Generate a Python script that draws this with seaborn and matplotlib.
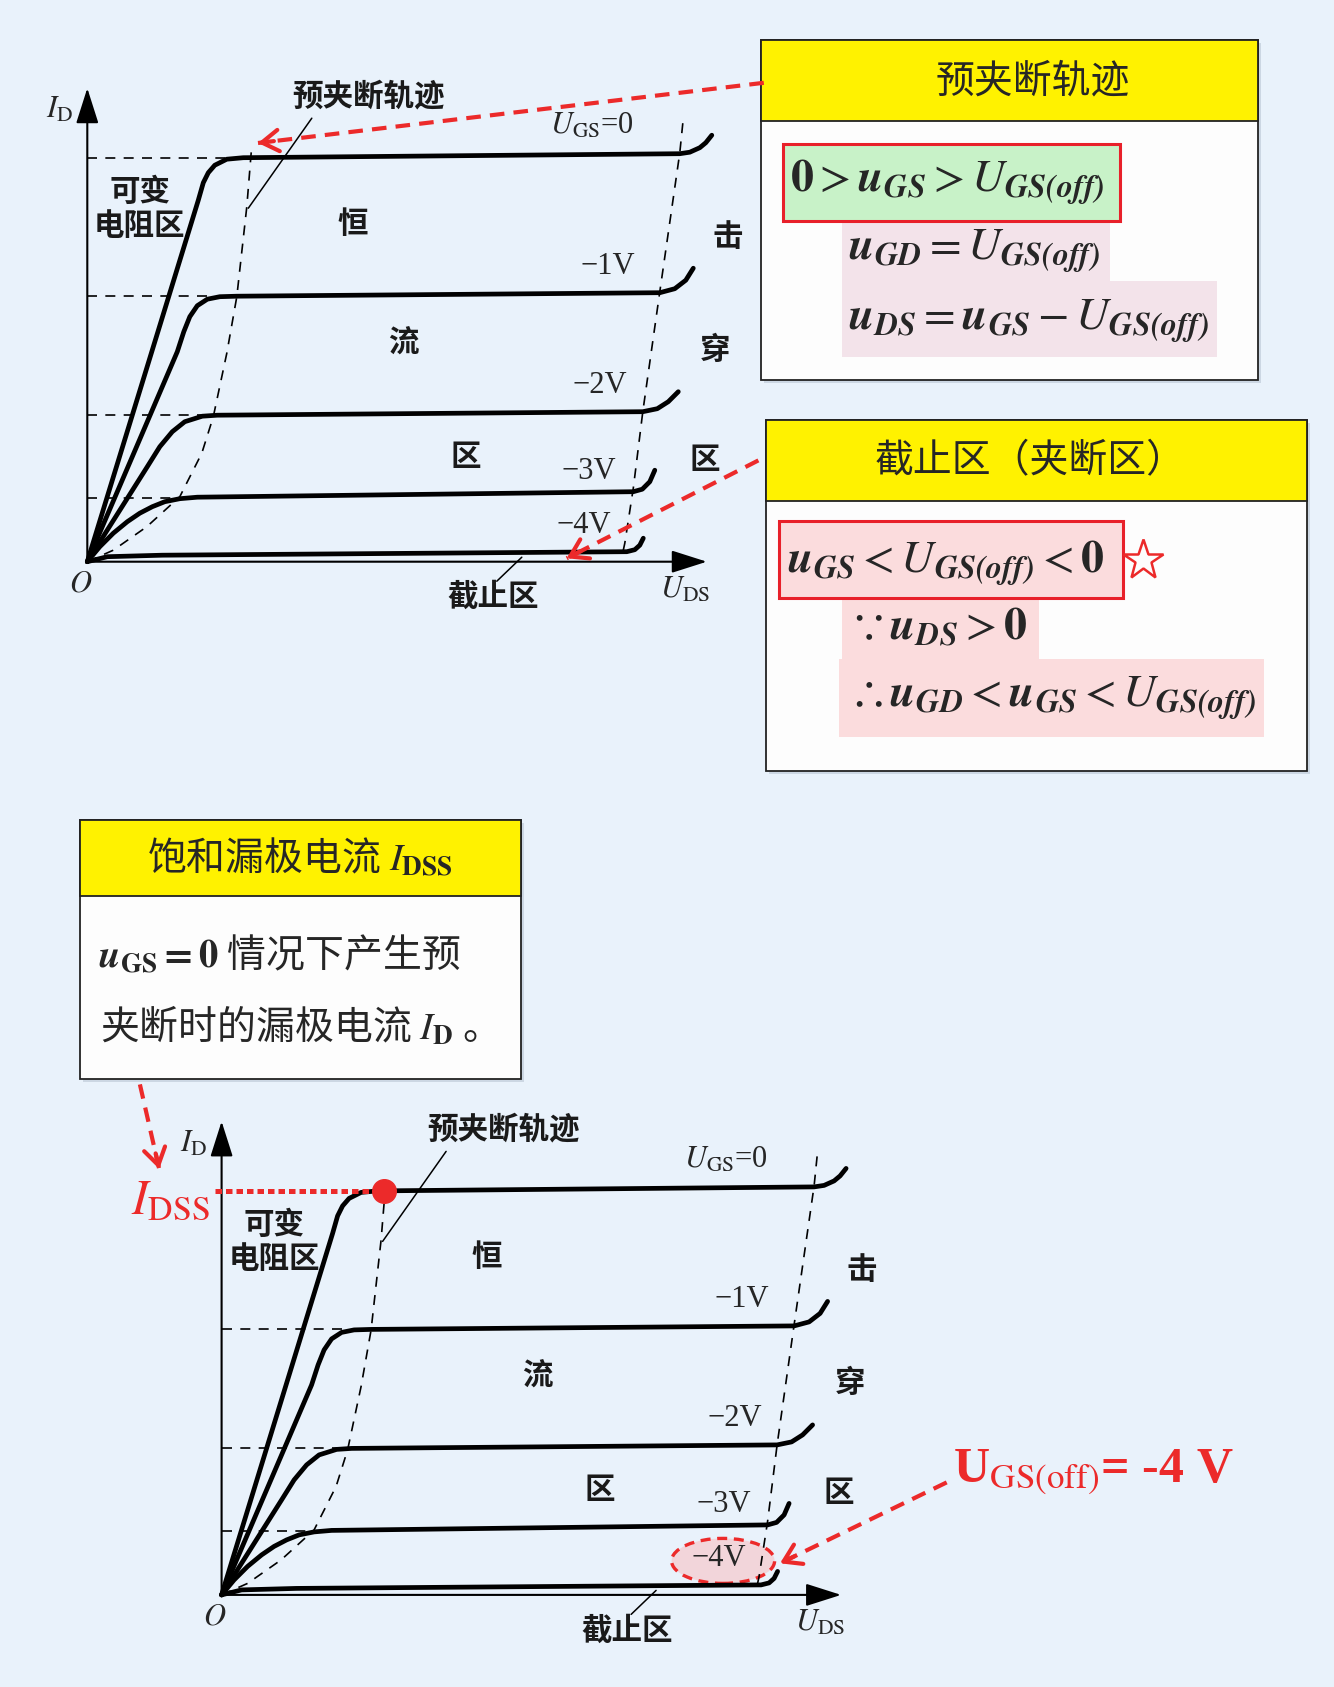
#!/usr/bin/env python3
"""JFET output characteristics slide: pre-pinch-off locus, cut-off region and I_DSS."""

import numpy as np
import matplotlib
matplotlib.use("Agg")
import matplotlib.pyplot as plt
from matplotlib.patches import Rectangle, Ellipse
import seaborn as sns

W, H = 1334, 1687
PX = 50.0  # pixels per chart unit
RED = "#ec2a2a"
BG = "#e9f2fb"

# ---- characteristic curves: U_DS (x) and I_D (y) ----
CURVE_LABELS = [r"$U_{\rm GS}$=0", "−1V", "−2V", "−3V", "−4V"]
UGS0_X = [0.0, 2.22, 2.32, 2.42, 2.55, 2.79, 3.12, 11.85, 12.05, 12.25, 12.37, 12.49]
UGS0_Y = [0.0, 7.23, 7.58, 7.78, 7.93, 8.05, 8.08, 8.16, 8.19, 8.28, 8.38, 8.53]
UGS1_X = [0.0, 1.80, 1.93, 2.05, 2.20, 2.40, 2.65, 2.99, 11.45, 11.75, 11.97, 12.12]
UGS1_Y = [0.0, 4.20, 4.60, 4.90, 5.12, 5.25, 5.30, 5.31, 5.38, 5.46, 5.63, 5.87]
UGS2_X = [0.0, 1.20, 1.45, 1.70, 1.95, 2.30, 2.60, 11.11, 11.40, 11.62, 11.82]
UGS2_Y = [0.0, 1.90, 2.30, 2.60, 2.80, 2.91, 2.93, 3.00, 3.06, 3.20, 3.40]
UGS3_X = [0.0, 0.25, 0.52, 0.80, 1.05, 1.30, 1.55, 1.85, 2.20, 10.92, 11.10, 11.25, 11.35]
UGS3_Y = [0.0, 0.30, 0.57, 0.80, 0.97, 1.10, 1.20, 1.26, 1.29, 1.40, 1.45, 1.60, 1.83]
UGS4_X = [0.0, 0.40, 1.50, 10.79, 10.95, 11.05, 11.12]
UGS4_Y = [0.0, 0.10, 0.13, 0.20, 0.24, 0.33, 0.47]
CURVES_X = [UGS0_X, UGS1_X, UGS2_X, UGS3_X, UGS4_X]
CURVES_Y = [UGS0_Y, UGS1_Y, UGS2_Y, UGS3_Y, UGS4_Y]

# pre-pinch-off locus and breakdown boundary (dashed)
PINCH_X = [0.0, 0.52, 1.19, 1.85, 2.29, 2.52, 2.79, 2.99, 3.19, 3.29]
PINCH_Y = [0.0, 0.23, 0.70, 1.30, 2.17, 2.90, 4.17, 5.30, 7.10, 8.33]
BREAK_X = [11.91, 11.85, 11.45, 11.11, 10.92, 10.75, 10.72]
BREAK_Y = [8.77, 8.18, 5.40, 3.00, 1.47, 0.37, 0.23]

# saturation levels with their dashed guide lines back to the I_D axis
LEVELS = [8.08, 5.31, 2.93, 1.28]
LEVEL_ENDS = [2.80, 2.55, 2.35, 1.80]
AXIS_X_END = 12.39
AXIS_Y_END = 9.47
IDSS_X = 3.25


def chart_axes(fig, origin):
    xlim, ylim = (-1.6, 13.5), (-1.2, 10.0)
    x0, y0 = origin
    rect = [(x0 + xlim[0] * PX) / W, (H - (y0 - ylim[0] * PX)) / H,
            (xlim[1] - xlim[0]) * PX / W, (ylim[1] - ylim[0]) * PX / H]
    ax = fig.add_axes(rect)
    ax.set_xlim(*xlim)
    ax.set_ylim(*ylim)
    ax.axis("off")
    ax.patch.set_alpha(0)
    return ax


def draw_chart(ax, top_guide=True):
    cn = dict(family=["Noto Sans CJK SC", "DejaVu Sans"], fontsize=22, fontweight="bold",
              color="#1a1a1a", ha="center", va="center")
    ser = dict(family=["Liberation Serif", "DejaVu Serif"], math_fontfamily="stix", fontsize=22,
               ha="center", va="center")

    # axes with arrows
    ax.annotate("", xy=(0, AXIS_Y_END), xytext=(0, 0),
                arrowprops=dict(arrowstyle="-|>,head_length=1.1,head_width=0.35", color="black",
                                lw=1.5, mutation_scale=20, shrinkA=0, shrinkB=0))
    ax.annotate("", xy=(AXIS_X_END, 0), xytext=(0, 0),
                arrowprops=dict(arrowstyle="-|>,head_length=1.1,head_width=0.35", color="black",
                                lw=1.5, mutation_scale=20, shrinkA=0, shrinkB=0))

    # dashed guides
    for i, (lvl, xe) in enumerate(zip(LEVELS, LEVEL_ENDS)):
        if i == 0 and not top_guide:
            continue
        ax.plot([0, xe], [lvl, lvl], color="black", lw=1.2, linestyle=(0, (6, 5)))
    ax.plot(PINCH_X, PINCH_Y, color="black", lw=1.2, linestyle=(0, (6, 5)))
    ax.plot(BREAK_X, BREAK_Y, color="black", lw=1.2, linestyle=(0, (6, 5)))

    # characteristic curves
    for xs, ys in zip(CURVES_X, CURVES_Y):
        sns.lineplot(x=xs, y=ys, ax=ax, sort=False, estimator=None, color="black",
                     lw=3.4, solid_capstyle="round", solid_joinstyle="round")

    # labels
    ax.text(5.63, 9.30, "预夹断轨迹", **cn)
    ax.plot([4.49, 3.22], [8.87, 7.07], color="black", lw=1.1)
    ax.text(1.05, 7.40, "可变", **cn)
    ax.text(1.05, 6.72, "电阻区", **cn)
    ax.text(5.31, 6.76, "恒", **cn)
    ax.text(6.32, 4.39, "流", **cn)
    ax.text(7.57, 2.09, "区", **cn)
    ax.text(12.80, 6.50, "击", **cn)
    ax.text(12.56, 4.24, "穿", **cn)
    ax.text(12.35, 2.03, "区", **cn)
    ax.text(8.11, -0.71, "截止区", **cn)
    ax.plot([8.19, 8.69], [-0.39, 0.09], color="black", lw=1.1)

    label_pos = [(10.09, 8.70), (10.41, 5.90), (10.26, 3.53), (10.04, 1.81), (9.94, 0.73)]
    for lab, (lx, ly) in zip(CURVE_LABELS, label_pos):
        ax.text(lx, ly, lab, **ser)
    ax.text(-0.56, 9.02, r"$I_{\rm D}$", **ser)
    ax.text(-0.13, -0.45, r"$O$", **ser)
    ax.text(11.96, -0.56, r"$U_{\rm DS}$", **ser)


def red_arrow(ax, start, end, lw=3.0):
    ax.plot([start[0], end[0]], [start[1], end[1]], color=RED, lw=lw,
            linestyle=(0, (3.5, 2.2)), solid_capstyle="butt")
    d = np.array(end, float) - np.array(start, float)
    u = d / np.hypot(*d)
    ax.annotate("", xy=end, xytext=(end[0] - u[0] * 16, end[1] - u[1] * 16),
                arrowprops=dict(arrowstyle="->,head_length=0.55,head_width=0.35", color=RED,
                                lw=lw, mutation_scale=22, shrinkA=0, shrinkB=0))


def titled_box(ax, x0, y0, x1, y_head, y1, title, tx, ty, fs=28):
    ax.add_patch(Rectangle((x0 + 3, y0 + 3), x1 - x0, y1 - y0, facecolor="#b9c6d4", edgecolor="none", alpha=0.6))
    ax.add_patch(Rectangle((x0, y0), x1 - x0, y1 - y0, facecolor="#fdfdfd", edgecolor="#222222", lw=1.3))
    ax.add_patch(Rectangle((x0, y0), x1 - x0, y_head - y0, facecolor="#fff200", edgecolor="#222222", lw=1.3))
    ax.text(tx, ty, title, ha="center", va="center", fontsize=fs,
            family=["Noto Sans CJK SC", "DejaVu Sans"], math_fontfamily="stix")


sns.set_theme(style="white")
plt.rcParams["font.family"] = ["Noto Sans CJK SC", "DejaVu Sans"]
plt.rcParams["mathtext.fontset"] = "stix"
plt.rcParams["mathtext.fallback"] = "stix"

fig = plt.figure(figsize=(W / 100, H / 100), dpi=100, facecolor=BG)

ax_top = chart_axes(fig, (87.3, 561.7))
draw_chart(ax_top, top_guide=True)

ax_bot = chart_axes(fig, (221.6, 1594.9))
draw_chart(ax_bot, top_guide=False)
ax_bot.plot([-0.13, IDSS_X], [LEVELS[0], LEVELS[0]], color=RED, lw=3.6, linestyle=(0, (1.3, 0.8)),
            solid_capstyle="butt", zorder=4)
ax_bot.plot([IDSS_X], [LEVELS[0]], marker="o", color=RED, markersize=17, zorder=5)
ax_bot.add_patch(Ellipse((10.03, 0.68), 2.06, 0.9, facecolor="#f2d5da", edgecolor=RED, lw=2.4,
                         linestyle=(0, (3, 2)), zorder=1))
ax_bot.text(-1.02, 7.91, r"$I_{\rm DSS}$", color=RED, fontsize=35, ha="center", va="center",
            math_fontfamily="stix")

# overlay in pixel coordinates: boxes, formulas and red call-outs
ov = fig.add_axes([0, 0, 1, 1], zorder=5)
ov.set_xlim(0, W)
ov.set_ylim(H, 0)
ov.axis("off")
ov.patch.set_alpha(0)

fml = dict(fontsize=33, ha="left", va="baseline", math_fontfamily="stix")

# box 1: pre-pinch-off locus
titled_box(ov, 761, 40, 1258, 121, 380, "预夹断轨迹", 1033, 81)
ov.add_patch(Rectangle((842, 212), 268, 77, facecolor="#f3e3ea", edgecolor="none"))
ov.add_patch(Rectangle((842, 281), 375, 76, facecolor="#f3e3ea", edgecolor="none"))
ov.add_patch(Rectangle((783, 144), 337, 77, facecolor="#c8f2c8", edgecolor="#e8202a", lw=2.2))
ov.text(790, 192, r"$\mathbf{0}>\mathbfit{u}_{\mathbfit{GS}}>U_{\mathbfit{GS(off)}}$", **fml)
ov.text(848, 260, r"$\mathbfit{u}_{\mathbfit{GD}}=U_{\mathbfit{GS(off)}}$", **fml)
ov.text(848, 330, r"$\mathbfit{u}_{\mathbfit{DS}}=\mathbfit{u}_{\mathbfit{GS}}-U_{\mathbfit{GS(off)}}$", **fml)

# box 2: cut-off region
titled_box(ov, 766, 420, 1307, 501, 771, "截止区（夹断区）", 1030, 461)
ov.add_patch(Rectangle((842, 593), 197, 74, facecolor="#fbdcdd", edgecolor="none"))
ov.add_patch(Rectangle((839, 659), 425, 78, facecolor="#fbdcdd", edgecolor="none"))
ov.add_patch(Rectangle((779, 521), 344, 77, facecolor="#fbdcdd", edgecolor="#e8202a", lw=2.2))
ov.text(787, 573, r"$\mathbfit{u}_{\mathbfit{GS}}<U_{\mathbfit{GS(off)}}<\mathbf{0}$", **fml)
ov.text(848, 640, r"$\because\mathbfit{u}_{\mathbfit{DS}}>\mathbf{0}$", **fml)
ov.text(848, 707, r"$\therefore\mathbfit{u}_{\mathbfit{GD}}<\mathbfit{u}_{\mathbfit{GS}}<U_{\mathbfit{GS(off)}}$", **fml)
ov.plot([1143], [560], marker="*", markersize=30, markerfacecolor="none", markeredgecolor=RED, mew=1.8)

# box 3: saturation drain current
titled_box(ov, 80, 820, 521, 896, 1079, r"饱和漏极电流 $I_{\mathbf{DSS}}$", 300, 858)
body = dict(fontsize=28, ha="left", va="baseline", math_fontfamily="stix",
            family=["Noto Sans CJK SC", "DejaVu Sans"])
ov.text(98, 967, r"$\mathbfit{u}_{\mathbf{GS}}\mathbf{=0}$ 情况下产生预", **body)
ov.text(100, 1040, r"夹断时的漏极电流 $I_{\mathbf{D}}$ 。", **body)

# red call-outs
red_arrow(ov, (763.8, 82.8), (258, 143))
red_arrow(ov, (758.4, 460.4), (566.7, 558.3))
red_arrow(ov, (139.9, 1084.4), (159.2, 1169))
red_arrow(ov, (946.7, 1482.4), (780, 1563.3))
ov.text(953, 1482, r"U$_{\rm GS(off)}$= -4 V", color=RED, fontsize=36, fontweight="bold",
        family=["Liberation Serif", "DejaVu Serif"], math_fontfamily="stix", ha="left", va="baseline")

fig.savefig("out.png", dpi=100, facecolor=BG)
